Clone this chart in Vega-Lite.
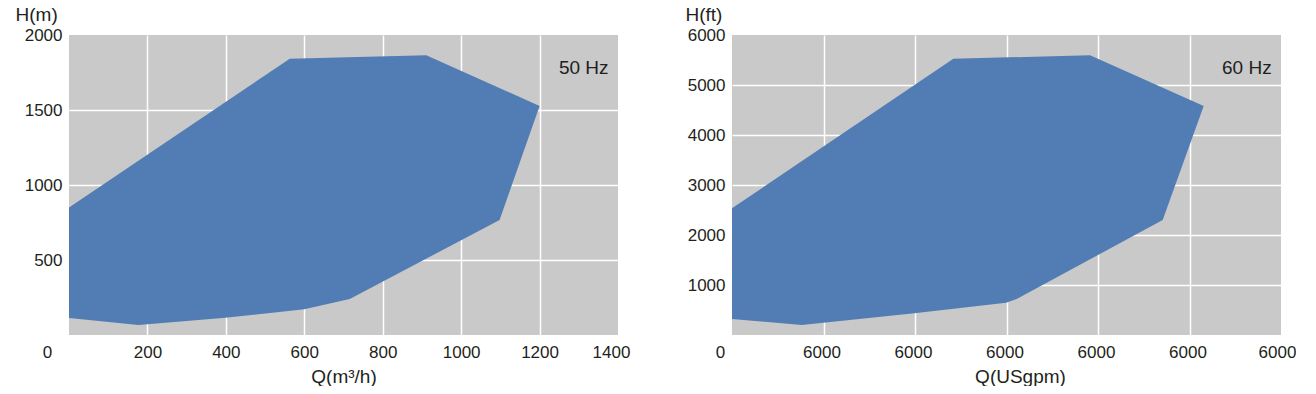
{
  "$schema": "https://vega.github.io/schema/vega-lite/v6.json",
  "padding": {"left": 15, "top": 5, "right": 0, "bottom": 0},
  "background": "white",
  "spacing": 114,
  "bounds": "flush",
  "datasets": {
    "hz50": [
      {"i": 1, "q": 0, "h": 850},
      {"i": 2, "q": 563, "h": 1842},
      {"i": 3, "q": 911, "h": 1865},
      {"i": 4, "q": 1200, "h": 1527},
      {"i": 5, "q": 1098, "h": 767},
      {"i": 6, "q": 716, "h": 240},
      {"i": 7, "q": 600, "h": 171},
      {"i": 8, "q": 399, "h": 115},
      {"i": 9, "q": 177, "h": 67},
      {"i": 10, "q": 0, "h": 113}
    ],
    "hz60": [
      {"i": 1, "q": 0, "h": 2533},
      {"i": 2, "q": 2419, "h": 5527},
      {"i": 3, "q": 3913, "h": 5593},
      {"i": 4, "q": 5155, "h": 4580},
      {"i": 5, "q": 4707, "h": 2300},
      {"i": 6, "q": 3111, "h": 720},
      {"i": 7, "q": 2995, "h": 646},
      {"i": 8, "q": 1992, "h": 434},
      {"i": 9, "q": 762, "h": 200},
      {"i": 10, "q": 0, "h": 320}
    ]
  },
  "hconcat": [
    {
      "width": 549,
      "height": 300,
      "layer": [
        {
          "data": {"name": "hz50"},
          "mark": {"type": "line", "fill": "#527cb4", "stroke": null, "strokeWidth": 0},
          "encoding": {
            "x": {
              "field": "q", "type": "quantitative",
              "scale": {"domain": [0, 1400], "nice": false, "zero": false},
              "axis": {
                "values": [0, 200, 400, 600, 800, 1000, 1200, 1400],
                "format": "d",
                "grid": true,
                "gridOpacity": {"condition": {"test": "datum.value == 0 || datum.value == 1400", "value": 0}, "value": 1},
                "labelOffset": {"condition": [{"test": "datum.value == 0", "value": -22}, {"test": "datum.value == 1400", "value": -7}], "value": 0},
                "labelPadding": 9,
                "title": "Q(m³/h)",
                "titleY": 41,
                "titleBaseline": "middle"
              }
            },
            "y": {
              "field": "h", "type": "quantitative",
              "scale": {"domain": [0, 2000], "nice": false, "zero": false},
              "axis": {
                "values": [500, 1000, 1500, 2000],
                "format": "d",
                "grid": true,
                "gridOpacity": {"condition": {"test": "datum.value == 2000", "value": 0}, "value": 1},
                "labelPadding": 7,
                "title": "H(m)",
                "titleAngle": 0,
                "titleAlign": "left",
                "titleBaseline": "middle",
                "titleX": -54,
                "titleY": -21
              }
            },
            "order": {"field": "i", "type": "quantitative"}
          }
        },
        {
          "data": {"values": [{"label": "50 Hz"}]},
          "mark": {"type": "text", "align": "right", "baseline": "middle", "fontSize": 19, "color": "#231f20"},
          "encoding": {
            "x": {"datum": 1376, "type": "quantitative"},
            "y": {"datum": 1780, "type": "quantitative"},
            "text": {"field": "label"}
          }
        }
      ]
    },
    {
      "width": 549,
      "height": 300,
      "layer": [
        {
          "data": {"name": "hz60"},
          "mark": {"type": "line", "fill": "#527cb4", "stroke": null, "strokeWidth": 0},
          "encoding": {
            "x": {
              "field": "q", "type": "quantitative",
              "scale": {"domain": [0, 6000], "nice": false, "zero": false},
              "axis": {
                "values": [0, 1000, 2000, 3000, 4000, 5000, 6000],
                "labelExpr": "datum.value == 0 ? '0' : '6000'",
                "grid": true,
                "gridOpacity": {"condition": {"test": "datum.value == 0 || datum.value == 6000", "value": 0}, "value": 1},
                "labelOffset": {"condition": [{"test": "datum.value == 0", "value": -12}, {"test": "datum.value == 6000", "value": -4}], "value": -2},
                "labelPadding": 9,
                "title": "Q(USgpm)",
                "titleX": 288,
                "titleY": 41,
                "titleBaseline": "middle"
              }
            },
            "y": {
              "field": "h", "type": "quantitative",
              "scale": {"domain": [0, 6000], "nice": false, "zero": false},
              "axis": {
                "values": [1000, 2000, 3000, 4000, 5000, 6000],
                "format": "d",
                "grid": true,
                "gridOpacity": {"condition": {"test": "datum.value == 6000", "value": 0}, "value": 1},
                "labelPadding": 7,
                "title": "H(ft)",
                "titleAngle": 0,
                "titleAlign": "left",
                "titleBaseline": "middle",
                "titleX": -47,
                "titleY": -21
              }
            },
            "order": {"field": "i", "type": "quantitative"}
          }
        },
        {
          "data": {"values": [{"label": "60 Hz"}]},
          "mark": {"type": "text", "align": "right", "baseline": "middle", "fontSize": 19, "color": "#231f20"},
          "encoding": {
            "x": {"datum": 5898, "type": "quantitative"},
            "y": {"datum": 5340, "type": "quantitative"},
            "text": {"field": "label"}
          }
        }
      ]
    }
  ],
  "config": {
    "font": "Liberation Sans",
    "view": {"fill": "#c8c9c8", "stroke": null},
    "axis": {
      "domain": false,
      "ticks": false,
      "labelFontSize": 17,
      "labelColor": "#231f20",
      "labelFlush": false,
      "labelOverlap": false,
      "titleFontSize": 19,
      "titleFontWeight": "normal",
      "titleColor": "#231f20",
      "gridColor": "#ffffff",
      "gridWidth": 1.5
    }
  }
}
